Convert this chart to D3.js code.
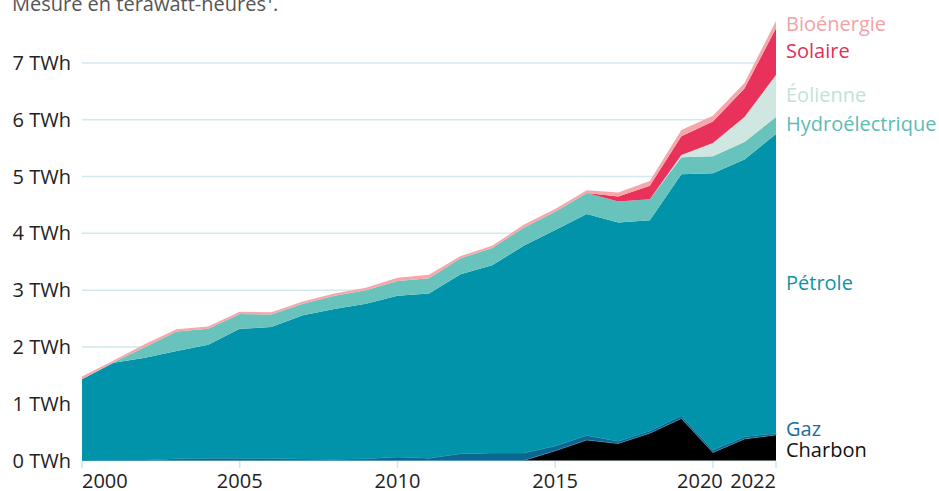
<!DOCTYPE html>
<html><head><meta charset="utf-8">
<script src="https://cdn.jsdelivr.net/npm/d3@7"></script>
<style>
html,body{margin:0;padding:0;background:#fff;}
svg{display:block;font-family:"Open Sans",sans-serif;}
</style></head>
<body>
<svg id="chart" width="939" height="491"></svg>
<script>
const years = d3.range(2000, 2023);
const charbon = [0,0,0,0,0,0,0,0,0,0,0,0,0,0,0,0.17,0.36,0.30,0.48,0.74,0.14,0.38,0.45];
const gaz = [0,0.005,0.01,0.03,0.04,0.04,0.035,0.025,0.02,0.03,0.06,0.04,0.12,0.13,0.13,0.085,0.08,0.04,0.04,0.05,0.045,0.04,0.03];
const petrole = [1.43,1.715,1.80,1.90,2.00,2.28,2.315,2.535,2.65,2.73,2.84,2.90,3.16,3.31,3.65,3.805,3.90,3.85,3.71,4.25,4.875,4.88,5.27];
const hydro = [0,0.01,0.19,0.34,0.28,0.26,0.22,0.20,0.23,0.24,0.26,0.27,0.28,0.30,0.32,0.32,0.37,0.37,0.37,0.30,0.30,0.31,0.30];
const eolienne = [0,0,0,0,0,0,0,0,0,0,0,0,0,0,0,0,0,0,0,0.04,0.23,0.44,0.74];
const solaire = [0,0,0,0,0,0,0,0,0,0,0,0,0,0,0,0,0,0.09,0.24,0.33,0.38,0.50,0.82];
const bio = [0.05,0.03,0.05,0.04,0.04,0.04,0.04,0.04,0.04,0.04,0.06,0.06,0.04,0.04,0.05,0.05,0.05,0.07,0.08,0.11,0.10,0.10,0.13];

const yTicks = [0,1,2,3,4,5,6,7];
const xTicks = [2000,2005,2010,2015,2020,2022];

const series = [
  {key:"Charbon", values:charbon, fill:"#000000", text:"#111111"},
  {key:"Gaz", values:gaz, fill:"#0b6790", text:"#1b6e9b"},
  {key:"Pétrole", values:petrole, fill:"#0093a9", text:"#0f93a8"},
  {key:"Hydroélectrique", values:hydro, fill:"#68c3bd", text:"#5cbcb6"},
  {key:"Éolienne", values:eolienne, fill:"#cfe7e0", text:"#c2e2d8"},
  {key:"Solaire", values:solaire, fill:"#e8315b", text:"#e0305a"},
  {key:"Bioénergie", values:bio, fill:"#f5a7aa", text:"#f2a2a7"}
];

const rows = years.map((y,i)=>{const r={year:y}; series.forEach(s=>r[s.key]=s.values[i]); return r;});

const svg = d3.select("#chart");
const x = d3.scaleLinear().domain([2000,2022]).range([82,776]);
const y = d3.scaleLinear().domain([0,7]).range([460.5,63]);

// title
svg.append("text").attr("x",12).attr("y",11).attr("font-size",20).attr("fill","#555")
  .text("Mesure en térawatt-heures¹.");

// gridlines
svg.append("g").selectAll("line").data(yTicks).join("line")
  .attr("x1",82).attr("x2",776).attr("y1",d=>y(d)).attr("y2",d=>y(d))
  .attr("stroke","#d2e9ef").attr("stroke-width",1.5);

svg.append("g").selectAll("text").data(yTicks).join("text")
  .attr("x",71).attr("y",d=>y(d)).attr("dy","0.35em").attr("text-anchor","end")
  .attr("font-size",20).attr("fill","#222").text(d=>d+" TWh");

// stack
const stack = d3.stack().keys(series.map(s=>s.key));
const layers = stack(rows);
const area = d3.area().x(d=>x(d.data.year)).y0(d=>y(d[0])).y1(d=>y(d[1]));

svg.append("g").selectAll("path").data(layers).join("path")
  .attr("d",area).attr("fill",(d,i)=>series[i].fill)
  .attr("stroke",(d,i)=>i===1?"#3f8fb8":"none").attr("stroke-width",0.6);

// x ticks
svg.append("g").selectAll("line").data(xTicks).join("line")
  .attr("x1",d=>x(d)).attr("x2",d=>x(d)).attr("y1",461).attr("y2",468)
  .attr("stroke","#cde6ee").attr("stroke-width",1.5);

svg.append("g").selectAll("text").data(xTicks).join("text")
  .attr("x",d=>d===2020?x(d)-13:x(d)).attr("y",488)
  .attr("text-anchor",d=>d===2000?"start":(d===2022?"end":"middle"))
  .attr("font-size",20).attr("fill","#222").text(d=>d);

// right labels
const last = layers.map((l,i)=>{const p=l[l.length-1]; return {s:series[i], pos:y((p[0]+p[1])/2)};});
const minGap = 21;
for(let iter=0; iter<50; iter++){
  for(let i=0;i<last.length-1;i++){
    const a=last[i], b=last[i+1];
    const gap = a.pos - b.pos;
    if(gap<minGap){ const d=(minGap-gap)/2; a.pos+=d; b.pos-=d; }
  }
}
svg.append("g").selectAll("text").data(last).join("text")
  .attr("x",786).attr("y",d=>d.pos).attr("dy","0.3em")
  .attr("font-size",20).attr("fill",d=>d.s.text).text(d=>d.s.key);
</script>
</body></html>
